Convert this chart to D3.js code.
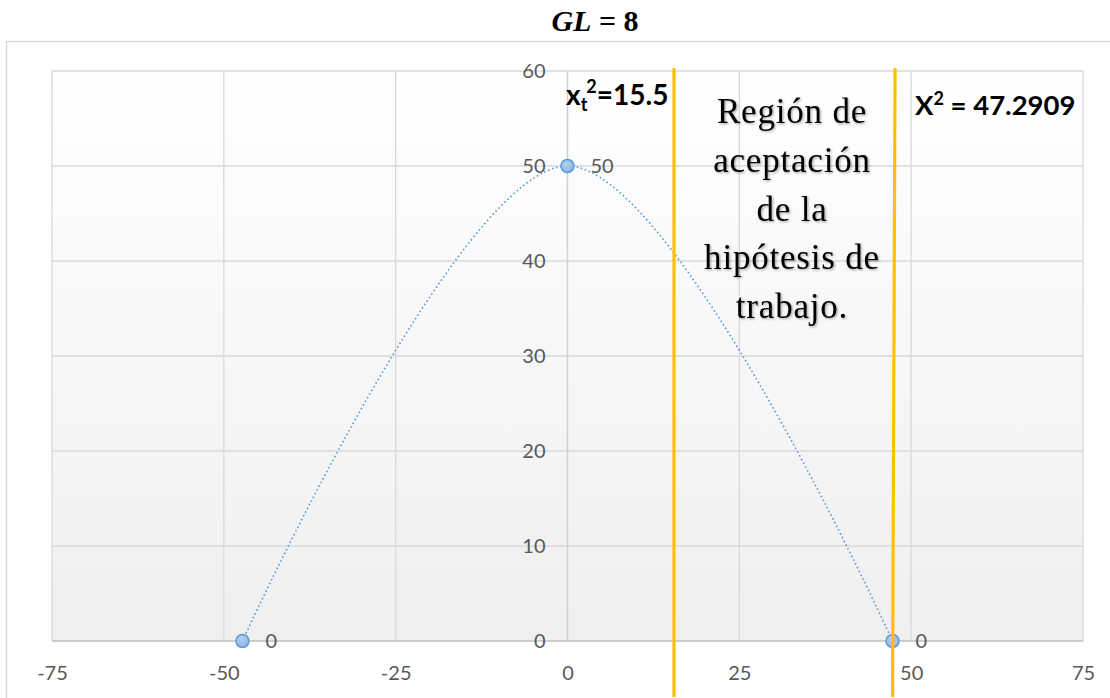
<!DOCTYPE html>
<html>
<head>
<meta charset="utf-8">
<script src="https://cdn.jsdelivr.net/npm/d3@7"></script>
<style>
  html, body { margin: 0; padding: 0; background: #ffffff; }
  svg { display: block; }
</style>
</head>
<body>
<svg id="chart" width="1110" height="698"></svg>
<script>
// Curve points (x, y) and their data labels
const pointX = [-47.2909, 0, 47.2909];
const pointY = [0, 50, 0];
// Axis ticks
const xTicks = [-75, -50, -25, 0, 25, 50, 75];
const yTicks = [0, 10, 20, 30, 40, 50, 60];
// Critical values marked with vertical lines
const criticalX = [15.5, 47.2909];
// Text of the central annotation
const regionLines = ["Región de", "aceptación", "de la", "hipótesis de", "trabajo."];

const svg = d3.select("#chart");
const W = 1110, H = 698;
const plot = { left: 52, right: 1083, top: 71, bottom: 641 };

const x = d3.scaleLinear().domain([-75, 75]).range([plot.left, plot.right]);
const y = d3.scaleLinear().domain([0, 60]).range([plot.bottom, plot.top]);

const defs = svg.append("defs");
const bg = defs.append("linearGradient").attr("id", "plotBg")
  .attr("x1", 0).attr("y1", 0).attr("x2", 0).attr("y2", 1);
bg.append("stop").attr("offset", "0%").attr("stop-color", "#ffffff");
bg.append("stop").attr("offset", "100%").attr("stop-color", "#efefef");

const mk = defs.append("radialGradient").attr("id", "markerFill")
  .attr("cx", "40%").attr("cy", "35%").attr("r", "70%");
mk.append("stop").attr("offset", "0%").attr("stop-color", "#b4d0ee");
mk.append("stop").attr("offset", "100%").attr("stop-color", "#8fb6e2");

const shadow = defs.append("filter").attr("id", "txtShadow")
  .attr("x", "-10%").attr("y", "-10%").attr("width", "130%").attr("height", "140%");
shadow.append("feDropShadow").attr("dx", 1.2).attr("dy", 1.2)
  .attr("stdDeviation", 0.8).attr("flood-color", "#000").attr("flood-opacity", 0.35);

// Chart area frame
svg.append("rect").attr("x", 6.5).attr("y", 41.5)
  .attr("width", W + 20).attr("height", H + 20)
  .attr("fill", "#ffffff").attr("stroke", "#d9d9d9").attr("stroke-width", 1.5);

// Title
const title = svg.append("text")
  .attr("x", 595).attr("y", 31)
  .attr("text-anchor", "middle")
  .attr("font-family", "'Liberation Serif', 'DejaVu Serif', serif")
  .attr("font-weight", "bold")
  .attr("font-size", 30)
  .attr("fill", "#000");
title.append("tspan").attr("font-style", "italic").text("GL");
title.append("tspan").text(" = 8");

// Plot background
svg.append("rect")
  .attr("x", plot.left).attr("y", plot.top)
  .attr("width", plot.right - plot.left).attr("height", plot.bottom - plot.top)
  .attr("fill", "url(#plotBg)");

// Gridlines
const grid = svg.append("g").attr("stroke", "#d9d9d9").attr("stroke-width", 1.3);
grid.selectAll("line.h").data(yTicks.filter(d => d !== 0)).join("line")
  .attr("x1", plot.left).attr("x2", plot.right)
  .attr("y1", d => y(d)).attr("y2", d => y(d));
grid.selectAll("line.v").data(xTicks.filter(d => d !== 0)).join("line")
  .attr("y1", plot.top).attr("y2", plot.bottom)
  .attr("x1", d => x(d)).attr("x2", d => x(d));

// Axes: horizontal at y = 0, vertical at x = 0
svg.append("line")
  .attr("x1", plot.left).attr("x2", plot.right)
  .attr("y1", y(0)).attr("y2", y(0))
  .attr("stroke", "#bfbfbf").attr("stroke-width", 1.5);
svg.append("line")
  .attr("x1", x(0)).attr("x2", x(0))
  .attr("y1", plot.top).attr("y2", plot.bottom)
  .attr("stroke", "#d0d0d0").attr("stroke-width", 1.5);

// Tick labels
const tickFont = "Lato, 'Open Sans', sans-serif";
const xAxis = d3.axisBottom(x).tickValues(xTicks).tickSize(0).tickPadding(0)
  .tickFormat(d => String(d));
const gx = svg.append("g").attr("transform", `translate(0,${plot.bottom + 39})`).call(xAxis);
gx.select(".domain").remove();
gx.selectAll("text")
  .attr("font-family", tickFont).attr("font-size", 20).attr("fill", "#595959")
  .attr("dy", 0);

const yAxis = d3.axisLeft(y).tickValues(yTicks).tickSize(0).tickPadding(0)
  .tickFormat(d => String(d));
const gy = svg.append("g").attr("transform", `translate(${x(0) - 22},0)`).call(yAxis);
gy.select(".domain").remove();
gy.selectAll("text")
  .attr("font-family", tickFont).attr("font-size", 20).attr("fill", "#595959");

// Smoothed dotted curve
const pts = pointX.map((d, i) => [d, pointY[i]]);
const line = d3.line().x(d => x(d[0])).y(d => y(d[1])).curve(d3.curveCardinal.tension(0));
svg.append("path")
  .attr("d", line(pts))
  .attr("fill", "none")
  .attr("stroke", "#5b9bd5")
  .attr("stroke-width", 1.6)
  .attr("stroke-dasharray", "1.6,2.6");

// Markers
svg.selectAll("circle.pt").data(pts).join("circle")
  .attr("cx", d => x(d[0])).attr("cy", d => y(d[1])).attr("r", 6.5)
  .attr("fill", "url(#markerFill)")
  .attr("stroke", "#5b9bd5").attr("stroke-width", 1.5);

// Data labels
svg.selectAll("text.dl").data(pts).join("text")
  .attr("x", d => x(d[0]) + 23).attr("y", d => y(d[1]))
  .attr("dy", "0.35em")
  .attr("font-family", tickFont).attr("font-size", 20).attr("fill", "#595959")
  .text(d => d[1]);

// Critical value lines
const lean = [0, 2.5];
svg.selectAll("line.crit").data(criticalX).join("line")
  .attr("x1", (d, i) => x(d) + lean[i]).attr("y1", 68)
  .attr("x2", d => x(d)).attr("y2", 697)
  .attr("stroke", "#ffc000").attr("stroke-width", 3.2);

// Critical value labels
const lbl1 = svg.append("text")
  .attr("x", 566).attr("y", 105)
  .attr("font-family", tickFont).attr("font-weight", "bold")
  .attr("font-size", 28).attr("fill", "#000");
lbl1.append("tspan").text("x");
lbl1.append("tspan").attr("font-size", 18).attr("dy", 6).text("t");
lbl1.append("tspan").attr("font-size", 18).attr("dy", -18).attr("dx", -1).text("2");
lbl1.append("tspan").attr("dy", 12).text("=" + criticalX[0]);

const lbl2 = svg.append("text")
  .attr("x", 915).attr("y", 115)
  .attr("font-family", tickFont).attr("font-weight", "bold")
  .attr("font-size", 27.5).attr("fill", "#000");
lbl2.append("tspan").text("X");
lbl2.append("tspan").attr("font-size", 18).attr("dy", -10).text("2");
lbl2.append("tspan").attr("dy", 10).text(" = " + criticalX[1]);

// Region annotation
svg.append("g").attr("filter", "url(#txtShadow)")
  .selectAll("text").data(regionLines).join("text")
  .attr("x", 792).attr("y", (d, i) => 123 + i * 48.8)
  .attr("text-anchor", "middle")
  .attr("font-family", "'Liberation Serif', 'Times New Roman', serif")
  .attr("font-size", 35).attr("letter-spacing", 0.8).attr("fill", "#000")
  .text(d => d);
</script>
</body>
</html>
